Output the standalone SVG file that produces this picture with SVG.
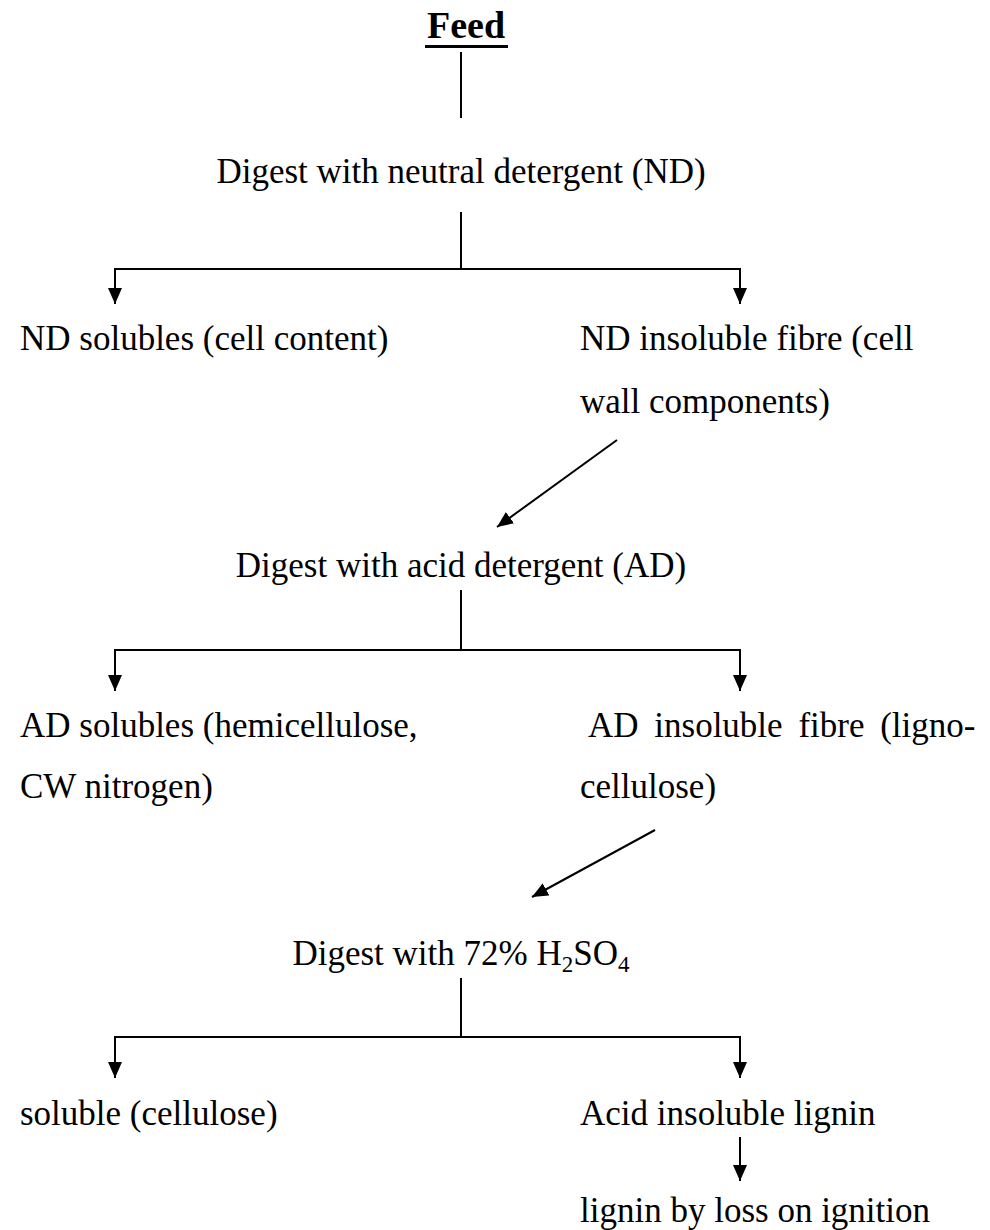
<svg xmlns="http://www.w3.org/2000/svg" width="990" height="1230" viewBox="0 0 990 1230">
<style>
text{font-family:"Liberation Serif","Times New Roman",serif;font-size:35px;fill:#000}
.c{text-anchor:middle}
.b{font-weight:bold;font-size:38px}
line{stroke:#000;stroke-width:2;fill:none}
</style>
<defs>
<marker id="ah" markerUnits="userSpaceOnUse" markerWidth="18" markerHeight="16" refX="16" refY="7" orient="auto">
<path d="M0,0 L16,7 L0,14 Z" fill="#000"/>
</marker>
</defs>
<rect width="990" height="1230" fill="#fff"/>
<g id="feed">
<text class="c b" x="466" y="38">Feed</text>
<rect x="425" y="45" width="83" height="3" fill="#000"/>
</g>
<g id="digest-nd"><text class="c" x="461" y="183">Digest with neutral detergent (ND)</text></g>
<g id="nd-solubles"><text x="20" y="350">ND solubles (cell content)</text></g>
<g id="nd-insoluble"><text x="580" y="350">ND insoluble fibre (cell</text><text x="580" y="413">wall components)</text></g>
<g id="digest-ad"><text class="c" x="461" y="577">Digest with acid detergent (AD)</text></g>
<g id="ad-solubles"><text x="20" y="737">AD solubles (hemicellulose,</text><text x="20" y="798">CW nitrogen)</text></g>
<g id="ad-insoluble"><text x="588" y="737" word-spacing="7">AD insoluble fibre (ligno-</text><text x="580" y="798">cellulose)</text></g>
<g id="digest-h2so4"><text class="c" x="461" y="965">Digest with 72% H<tspan font-size="23" dy="7">2</tspan><tspan dy="-7">SO</tspan><tspan font-size="23" dy="7">4</tspan></text></g>
<g id="soluble-cellulose"><text x="20" y="1125">soluble (cellulose)</text></g>
<g id="acid-insoluble-lignin"><text x="580" y="1125">Acid insoluble lignin</text></g>
<g id="lignin-ignition"><text x="580" y="1222">lignin by loss on ignition</text></g>
<g id="connectors">
<line x1="461" y1="52" x2="461" y2="118"/>
<line x1="461" y1="212" x2="461" y2="269"/>
<line x1="114" y1="269" x2="741" y2="269"/>
<line x1="115" y1="269" x2="115" y2="304" marker-end="url(#ah)"/>
<line x1="740" y1="269" x2="740" y2="304" marker-end="url(#ah)"/>
<line x1="617" y1="440" x2="497" y2="527" marker-end="url(#ah)"/>
<line x1="461" y1="590" x2="461" y2="650"/>
<line x1="114" y1="650" x2="741" y2="650"/>
<line x1="115" y1="650" x2="115" y2="691" marker-end="url(#ah)"/>
<line x1="740" y1="650" x2="740" y2="691" marker-end="url(#ah)"/>
<line x1="655" y1="830" x2="532" y2="897" marker-end="url(#ah)"/>
<line x1="461" y1="978" x2="461" y2="1037"/>
<line x1="114" y1="1037" x2="741" y2="1037"/>
<line x1="115" y1="1037" x2="115" y2="1078" marker-end="url(#ah)"/>
<line x1="740" y1="1037" x2="740" y2="1078" marker-end="url(#ah)"/>
<line x1="740" y1="1137" x2="740" y2="1181" marker-end="url(#ah)"/>
</g>
</svg>
